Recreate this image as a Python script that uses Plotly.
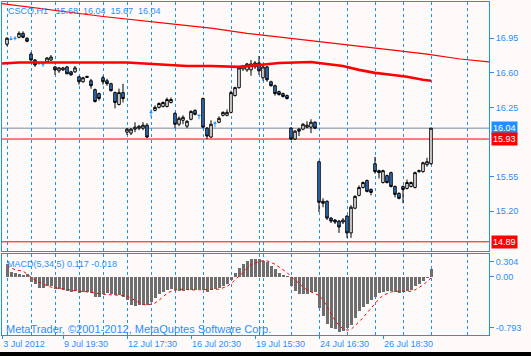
import plotly.graph_objects as go

# ---------------- data ----------------
opens = [16.89, 16.94, 16.95, 16.96, 17.00, 16.95, 16.79, 16.73, 16.70, 16.69,
         16.71, 16.73, 16.66, 16.62, 16.63, 16.66, 16.61, 16.61, 16.56, 16.51,
         16.565, 16.52, 16.43, 16.39, 16.55, 16.52, 16.49, 16.40, 16.28, 16.40,
         16.00, 15.99, 16.03, 16.04, 16.04, 16.07, 16.20, 16.22, 16.25, 16.26,
         16.26, 16.30, 16.19, 16.08, 16.12, 16.06, 16.13, 16.22, 16.17, 16.34,
         16.04, 15.95, 16.09, 16.10, 16.17, 16.17, 16.20, 16.37, 16.45, 16.64,
         16.63, 16.63, 16.66, 16.70, 16.55, 16.66, 16.51, 16.47, 16.41, 16.39,
         16.37, 16.04, 15.93, 16.03, 16.03, 16.05, 16.05, 16.10, 15.70, 15.30,
         15.30, 15.13, 15.11, 15.10, 15.09, 15.15, 14.98, 15.23, 15.36, 15.44,
         15.51, 15.42, 15.68, 15.61, 15.49, 15.56, 15.59, 15.45, 15.38, 15.45,
         15.43, 15.45, 15.44, 15.60, 15.60, 15.67, 15.68]
highs = [16.96, 16.97, 16.97, 17.02, 17.02, 16.96, 16.81, 16.74, 16.71, 16.69,
         16.76, 16.78, 16.67, 16.66, 16.66, 16.67, 16.62, 16.67, 16.57, 16.56,
         16.565, 16.54, 16.44, 16.40, 16.57, 16.54, 16.50, 16.41, 16.44, 16.49,
         16.04, 16.04, 16.10, 16.07, 16.10, 16.09, 16.23, 16.27, 16.30, 16.31,
         16.35, 16.35, 16.20, 16.16, 16.17, 16.12, 16.22, 16.23, 16.17, 16.35,
         16.05, 16.12, 16.11, 16.16, 16.21, 16.23, 16.42, 16.46, 16.66, 16.68,
         16.70, 16.73, 16.72, 16.77, 16.68, 16.67, 16.52, 16.48, 16.42, 16.40,
         16.38, 16.05, 16.02, 16.04, 16.09, 16.11, 16.13, 16.11, 15.71, 15.33,
         15.31, 15.14, 15.12, 15.11, 15.13, 15.16, 15.26, 15.36, 15.46, 15.50,
         15.52, 15.43, 15.75, 15.62, 15.62, 15.57, 15.60, 15.46, 15.39, 15.46,
         15.52, 15.50, 15.60, 15.62, 15.70, 15.74, 16.04]
lows = [16.87, 16.93, 16.93, 16.95, 16.95, 16.91, 16.72, 16.66, 16.68, 16.66,
        16.70, 16.72, 16.58, 16.60, 16.62, 16.59, 16.57, 16.60, 16.48, 16.50,
        16.555, 16.44, 16.30, 16.32, 16.48, 16.47, 16.41, 16.24, 16.27, 16.30,
        15.97, 15.97, 16.00, 16.02, 16.02, 15.94, 16.15, 16.21, 16.24, 16.25,
        16.25, 16.29, 16.04, 16.06, 16.08, 16.04, 16.12, 16.17, 16.13, 16.04,
        15.93, 15.94, 16.05, 16.09, 16.16, 16.16, 16.19, 16.36, 16.44, 16.62,
        16.61, 16.57, 16.64, 16.58, 16.52, 16.51, 16.46, 16.37, 16.37, 16.35,
        16.33, 15.92, 15.92, 15.96, 16.02, 16.04, 15.99, 16.03, 15.19, 15.24,
        15.11, 15.08, 15.07, 14.98, 15.07, 14.93, 14.93, 15.22, 15.35, 15.43,
        15.39, 15.36, 15.58, 15.53, 15.48, 15.48, 15.44, 15.34, 15.32, 15.28,
        15.42, 15.44, 15.43, 15.59, 15.59, 15.65, 15.67]
closes = [16.95, 16.94, 16.95, 17.00, 16.96, 16.92, 16.73, 16.68, 16.70, 16.69,
          16.75, 16.76, 16.63, 16.65, 16.65, 16.59, 16.58, 16.65, 16.51, 16.55,
          16.555, 16.47, 16.31, 16.34, 16.51, 16.49, 16.42, 16.30, 16.40, 16.34,
          16.03, 16.03, 16.05, 16.06, 16.07, 15.95, 16.20, 16.25, 16.29, 16.30,
          16.33, 16.33, 16.08, 16.14, 16.15, 16.11, 16.21, 16.18, 16.17, 16.05,
          15.96, 16.08, 16.09, 16.14, 16.20, 16.20, 16.40, 16.45, 16.65, 16.67,
          16.69, 16.69, 16.70, 16.62, 16.66, 16.53, 16.47, 16.39, 16.38, 16.36,
          16.34, 15.93, 16.01, 16.01, 16.08, 16.07, 16.10, 16.04, 15.29, 15.28,
          15.13, 15.10, 15.09, 15.04, 15.11, 14.98, 15.24, 15.35, 15.44, 15.49,
          15.40, 15.39, 15.60, 15.59, 15.61, 15.49, 15.45, 15.37, 15.33, 15.42,
          15.49, 15.49, 15.59, 15.61, 15.69, 15.70, 16.04]
bar_idx = list(range(len(opens)))

# long moving average (shifted forward), read at bar positions
ma_slow_idx = [-1.25, 24, 42.25, 51.5, 60, 68.25, 76.5, 88.25, 96.5, 105, 113.25, 120.5]
ma_slow_val = [17.30, 17.17, 17.09, 17.05, 17.00, 16.96, 16.92, 16.87, 16.83, 16.79, 16.74, 16.71]

# shorter moving average
ma_fast_idx = [-1.25, 3, 30, 36, 45, 51, 58, 63, 68, 76, 80, 84, 88, 92, 96, 100, 104, 106]
ma_fast_val = [16.695, 16.705, 16.705, 16.69, 16.67, 16.67, 16.66, 16.68, 16.70, 16.71,
               16.69, 16.67, 16.63, 16.60, 16.58, 16.56, 16.53, 16.52]

macd_hist = [0.18, 0.07, 0.055, 0.04, 0.03, 0.04, -0.07, -0.11, -0.16, -0.16,
             -0.14, -0.14, -0.17, -0.18, -0.19, -0.21, -0.22, -0.21, -0.23, -0.22,
             -0.22, -0.24, -0.29, -0.29, -0.25, -0.24, -0.25, -0.26, -0.26, -0.29,
             -0.34, -0.41, -0.42, -0.41, -0.41, -0.41, -0.36, -0.30, -0.25, -0.22,
             -0.19, -0.17, -0.19, -0.21, -0.21, -0.19, -0.19, -0.19, -0.18, -0.19,
             -0.22, -0.19, -0.18, -0.16, -0.14, -0.11, -0.05, 0.05, 0.13, 0.19,
             0.22, 0.25, 0.25, 0.25, 0.22, 0.21, 0.16, 0.11, 0.06, 0.02,
             0.005, -0.14, -0.20, -0.25, -0.25, -0.25, -0.22, -0.22, -0.45, -0.56,
             -0.68, -0.74, -0.76, -0.79, -0.78, -0.74, -0.70, -0.60, -0.50, -0.44,
             -0.40, -0.34, -0.29, -0.24, -0.22, -0.21, -0.21, -0.22, -0.24, -0.22,
             -0.21, -0.19, -0.14, -0.11, -0.06, -0.02, 0.117]
macd_signal = [0.16, 0.13, 0.10, 0.09, 0.08, 0.04, -0.01, -0.05, -0.08, -0.11,
               -0.13, -0.15, -0.16, -0.17, -0.18, -0.19, -0.20, -0.20, -0.21, -0.21,
               -0.22, -0.22, -0.23, -0.25, -0.25, -0.26, -0.26, -0.26, -0.26, -0.27,
               -0.28, -0.31, -0.34, -0.37, -0.40, -0.41, -0.40, -0.38, -0.34, -0.29,
               -0.24, -0.21, -0.19, -0.18, -0.18, -0.19, -0.19, -0.19, -0.19, -0.19,
               -0.19, -0.19, -0.18, -0.18, -0.16, -0.14, -0.10, -0.05, 0.00, 0.06,
               0.12, 0.17, 0.20, 0.22, 0.23, 0.23, 0.21, 0.18, 0.14, 0.10,
               0.06, 0.00, -0.05, -0.10, -0.15, -0.19, -0.22, -0.24, -0.27, -0.33,
               -0.42, -0.53, -0.63, -0.70, -0.75, -0.77, -0.76, -0.71, -0.65, -0.59,
               -0.52, -0.45, -0.38, -0.32, -0.27, -0.24, -0.22, -0.21, -0.21, -0.21,
               -0.21, -0.21, -0.19, -0.16, -0.12, -0.07, -0.018]

day_sep = [0, 6, 12, 18, 24, 30, 36, 42, 49, 56, 63, 64, 71, 78, 85, 92, 99, 106, 115]
time_tick_idx = [-1.2, 14, 30, 46, 62, 78, 94]
time_tick_text = ["3 Jul 2012", "9 Jul 19:30", "12 Jul 17:30", "16 Jul 20:30",
                  "19 Jul 15:30", "24 Jul 16:30", "26 Jul 18:30"]
price_ticks = [16.95, 16.60, 16.25, 15.55, 15.20]
macd_tick_text = ["0.304", "0.00", "-0.793"]
macd_tick_pos = [0.216, 0.0, -0.739]

last_bid = 16.04
hlines_red = [15.93, 14.89]
title_text = "CSCO,H1\u00a0\u00a0 15.68\u00a0 16.04\u00a0 15.67\u00a0 16.04"
macd_text = "MACD(5,34,5) 0.117 -0.018"
copyright_text = "MetaTrader, \u00a92001-2012, MetaQuotes Software Corp."

# ---------------- style ----------------
BLUE = "#1E90FF"
BEAR = "#2F80D8"
BG = "#FFFAFA"
FONT = "Liberation Sans"

fig = go.Figure()

normal = [i for i in bar_idx if opens[i] != closes[i]]
doji = [i for i in bar_idx if opens[i] == closes[i]]

fig.add_trace(go.Candlestick(
    x=[bar_idx[i] for i in normal],
    open=[opens[i] for i in normal], high=[highs[i] for i in normal],
    low=[lows[i] for i in normal], close=[closes[i] for i in normal],
    increasing=dict(line=dict(color="black", width=1), fillcolor="white"),
    decreasing=dict(line=dict(color="black", width=1), fillcolor=BEAR),
    whiskerwidth=0, xaxis="x", yaxis="y", hoverinfo="skip", showlegend=False))
fig.add_trace(go.Candlestick(
    x=[bar_idx[i] for i in doji],
    open=[opens[i] for i in doji], high=[highs[i] for i in doji],
    low=[lows[i] for i in doji], close=[closes[i] for i in doji],
    increasing=dict(line=dict(color=BLUE, width=1), fillcolor=BLUE),
    decreasing=dict(line=dict(color=BLUE, width=1), fillcolor=BLUE),
    whiskerwidth=0, xaxis="x", yaxis="y", hoverinfo="skip", showlegend=False))

fig.add_trace(go.Scatter(x=ma_slow_idx, y=ma_slow_val, mode="lines",
                         line=dict(color="red", width=1.2), xaxis="x", yaxis="y",
                         hoverinfo="skip", showlegend=False))
fig.add_trace(go.Scatter(x=ma_fast_idx, y=ma_fast_val, mode="lines",
                         line=dict(color="red", width=2.6), xaxis="x", yaxis="y",
                         hoverinfo="skip", showlegend=False))

fig.add_trace(go.Bar(x=bar_idx, y=macd_hist, width=0.75, marker=dict(color="#6E6E6E", line=dict(width=0)),
                     xaxis="x2", yaxis="y2", hoverinfo="skip", showlegend=False))
fig.add_trace(go.Scatter(x=bar_idx, y=macd_signal, mode="lines",
                         line=dict(color="red", width=1, dash="3px,3px"),
                         xaxis="x2", yaxis="y2", hoverinfo="skip", showlegend=False))

minor_grid = dict(tickmode="array", tickvals=day_sep, showgrid=True, gridcolor=BLUE,
                  griddash="3px,3px", gridwidth=1, ticks="")

fig.update_layout(
    width=531, height=356,
    margin=dict(l=2, r=42, t=2, b=21),
    paper_bgcolor=BG, plot_bgcolor=BG,
    font=dict(family=FONT, size=9, color=BLUE),
    showlegend=False,
    bargap=0, boxgap=0.1,
    xaxis=dict(domain=[0, 1], anchor="y", range=[-1.25, 120.5], showticklabels=False,
               ticks="", showgrid=False, zeroline=False, minor=minor_grid,
               showline=True, mirror=True, linecolor=BLUE, linewidth=1,
               rangeslider=dict(visible=False), fixedrange=True),
    yaxis=dict(domain=[0.2523, 1], range=[14.797, 17.317], side="right",
               tickmode="array", tickvals=price_ticks,
               ticktext=["%.2f" % v for v in price_ticks],
               ticks="outside", ticklen=4, tickcolor=BLUE, showgrid=False, zeroline=False,
               showline=True, mirror=True, linecolor=BLUE, linewidth=1,
               tickfont=dict(family=FONT, size=9, color=BLUE)),
    xaxis2=dict(domain=[0, 1], anchor="y2", range=[-1.25, 120.5], matches="x",
                tickmode="array", tickvals=time_tick_idx, ticktext=time_tick_text,
                ticks="outside", ticklen=3, tickcolor=BLUE, ticklabelposition="outside right",
                tickfont=dict(family=FONT, size=9, color=BLUE),
                showgrid=False, zeroline=False, minor=minor_grid,
                showline=True, mirror=True, linecolor=BLUE, linewidth=1),
    yaxis2=dict(domain=[0, 0.2432], range=[-0.840, 0.327], side="right",
                tickmode="array", tickvals=macd_tick_pos, ticktext=macd_tick_text,
                ticks="outside", ticklen=4, tickcolor=BLUE, showgrid=False, zeroline=False,
                showline=True, mirror=True, linecolor=BLUE, linewidth=1,
                tickfont=dict(family=FONT, size=9, color=BLUE)),
)

shapes = [
    dict(type="line", xref="x domain", yref="y", x0=0, x1=1, y0=last_bid, y1=last_bid,
         line=dict(color="#778899", width=1), layer="below"),
]
for v in hlines_red:
    shapes.append(dict(type="line", xref="x domain", yref="y", x0=0, x1=1, y0=v, y1=v,
                       line=dict(color="red", width=1), layer="below"))
shapes.append(dict(type="rect", xref="paper", yref="paper", x0=-0.05, x1=1.2,
                   y0=-0.3, y1=-0.051, fillcolor="black", line=dict(width=0), layer="above"))
fig.update_layout(shapes=shapes)

annotations = [
    dict(text=title_text, xref="x domain", yref="y domain", x=0, y=1, xanchor="left",
         yanchor="top", xshift=4, yshift=-2, showarrow=False,
         font=dict(family=FONT, size=9, color=BLUE)),
    dict(text=macd_text, xref="x2 domain", yref="y2 domain", x=0, y=1, xanchor="left",
         yanchor="top", xshift=3, yshift=-3, showarrow=False,
         font=dict(family=FONT, size=9, color=BLUE)),
    dict(text=copyright_text, xref="x2 domain", yref="y2 domain", x=0, y=0, xanchor="left",
         yanchor="bottom", xshift=2, yshift=-2, showarrow=False,
         font=dict(family=FONT, size=11, color=BLUE)),
    dict(text="%.2f" % last_bid, xref="x domain", yref="y", x=1, y=last_bid, xanchor="left",
         xshift=2, showarrow=False, bgcolor=BLUE, borderpad=1,
         font=dict(family=FONT, size=9, color="white")),
]
for v in hlines_red:
    annotations.append(dict(text="%.2f" % v, xref="x domain", yref="y", x=1, y=v,
                            xanchor="left", xshift=2, showarrow=False, bgcolor="red",
                            borderpad=1, font=dict(family=FONT, size=9, color="white")))
fig.update_layout(annotations=annotations)

fig.write_html("out.html", config={"displayModeBar": False, "staticPlot": True},
               post_script="document.body.style.margin='0';document.body.style.background='%s';" % BG)
